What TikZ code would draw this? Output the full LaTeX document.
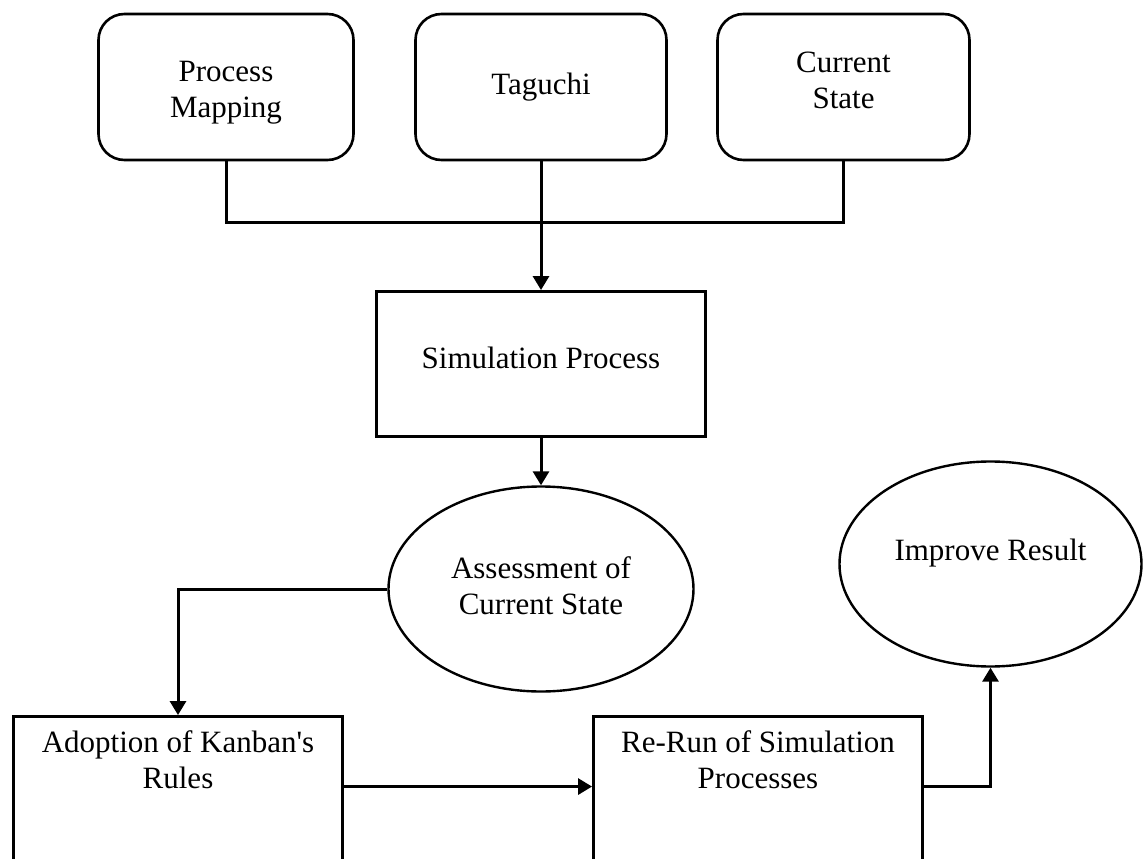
\documentclass[tikz,border=0pt]{standalone}
\usepackage{fontspec}
\setmainfont{Liberation Serif}
\usetikzlibrary{shapes.geometric,arrows.meta,calc}
\begin{document}
\begin{tikzpicture}[x=1pt,y=-1pt,
  every node/.style={font=\fontsize{31}{36}\selectfont, align=center, inner sep=0pt},
  srcbox/.style={draw, line width=2.6pt, rounded corners=26pt, minimum width=#1, minimum height=146pt},
  procbox/.style={draw, line width=2.9pt, minimum width=329pt, minimum height=145pt},
  oval/.style={draw, ellipse, line width=2.4pt, minimum width=#1, minimum height=205pt},
  link/.style={line width=3pt},
  flow/.style={link, -{Triangle[length=14pt,width=16pt]}}]
\useasboundingbox (0,0) rectangle (1144,859);
\clip (0,0) rectangle (1144,859);

% input sources
\node[srcbox=255pt, label={[anchor=north, yshift=-48pt]north:{Process\\Mapping}}]
      (pm) at (226,87) {};
\node[srcbox=251pt] (tag) at (541,87) {Taguchi};
\node[srcbox=252pt, label={[anchor=north, yshift=-39pt]north:{Current\\State}}]
      (cs) at (843.5,87) {};

% simulation and assessment
\node[procbox, text height=20.5pt, text depth=12pt] (sim) at (541,364) {Simulation Process};
\node[oval=305pt, label={[anchor=north, yshift=-71pt]north:{Assessment of\\Current State}}]
      (ass) at (541,589) {};

% improvement loop (boxes run past the lower edge)
\node[procbox, minimum height=200pt,
      label={[anchor=north, yshift=-15pt]north:{Adoption of Kanban\textquotesingle s\\Rules}}]
      (adopt) at (178,816.5) {};
\node[procbox, minimum height=200pt,
      label={[anchor=north, yshift=-15pt]north:{Re-Run of Simulation\\Processes}}]
      (rerun) at (758,816.5) {};
\node[oval=302pt, text height=20pt, text depth=28pt] (imp) at (990.5,564) {Improve Result};

% connectors
\coordinate (join) at ($(tag.south)+(0,61)$);
\draw[link] (pm.south) |- (join) -| (cs.south);
\draw[flow] (tag.south) -- (sim.north);
\draw[flow] (sim.south) -- (ass.north);
\draw[flow] (ass.west) -| (adopt.north);
\coordinate (adoptout) at ($(adopt.north east)+(0,71.5)$);
\coordinate (rerunin)  at ($(rerun.north west)+(0,71.5)$);
\coordinate (rerunout) at ($(rerun.north east)+(0,71.5)$);
\draw[flow] (adoptout) -- (rerunin);
\draw[flow] (rerunout) -| (imp.south);
\end{tikzpicture}
\end{document}
